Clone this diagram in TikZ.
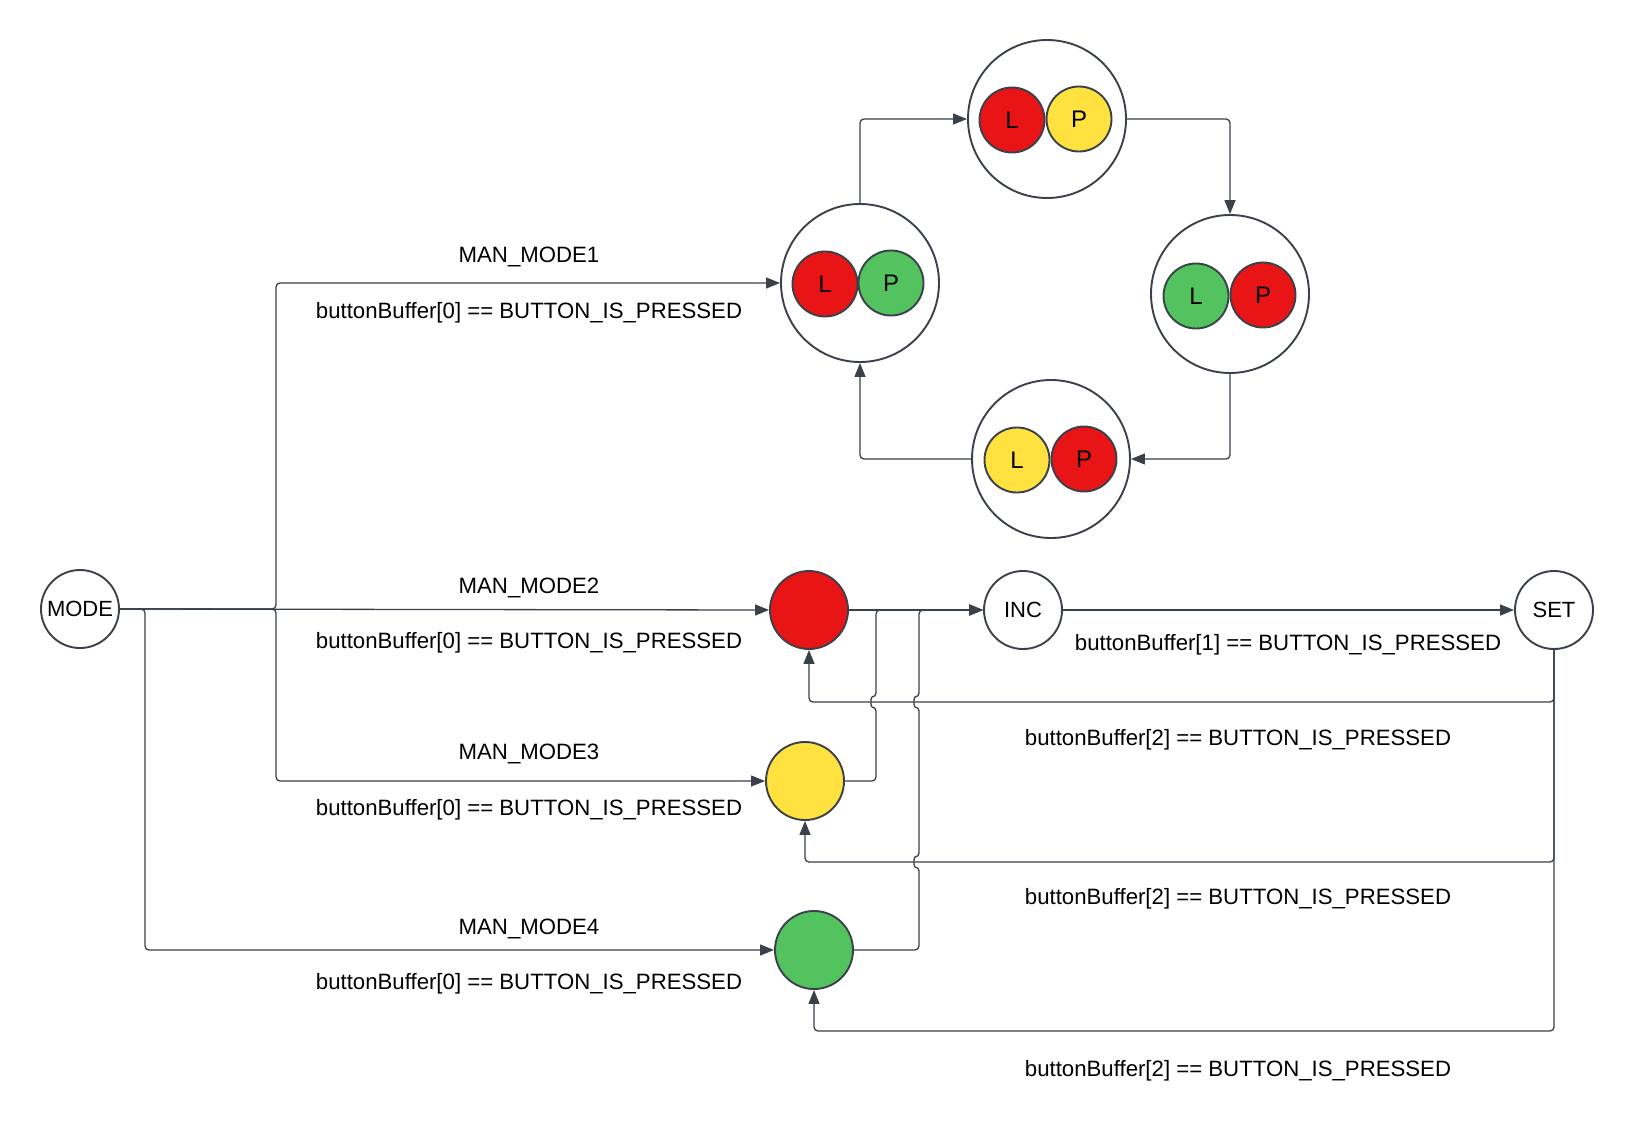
\documentclass[tikz,border=0pt]{standalone}
\usepackage{fontspec}
\setmainfont{Liberation Sans}
\usetikzlibrary{arrows.meta}
\definecolor{edge}{HTML}{3A414A}
\definecolor{lred}{HTML}{E81416}
\definecolor{lyellow}{HTML}{FFE23F}
\definecolor{lgreen}{HTML}{52C35E}
\begin{document}
\begin{tikzpicture}[x=1pt,y=-1pt,
  state/.style={circle, draw=edge, line width=1.9pt, minimum size=78pt, inner sep=0pt,
                fill=white, font=\fontsize{22}{26}\selectfont},
  lamp/.style={circle, draw=edge, line width=1.9pt, minimum size=78pt, inner sep=0pt},
  group/.style={circle, draw=edge, line width=1.9pt, minimum size=158pt,
                inner sep=0pt, fill=white},
  bulb/.style={circle, draw=edge, line width=1.9pt, minimum size=65pt,
               inner sep=0pt, font=\fontsize{24}{28}\selectfont},
  link/.style={draw=edge, line width=1.3pt, rounded corners=4pt},
  arr/.style={-{Triangle[length=14pt,width=11pt]}},
  hop/.style={out=180, in=180, looseness=1.4},
  lbl/.style={inner sep=0pt, font=\fontsize{22.2}{26}\selectfont}]
\useasboundingbox (0,0) rectangle (1633,1146);

% ---- states of the main chart ----
\node[state] (mode) at (80,609) {MODE};
\node[lamp, fill=lred]    (rd) at (809,610) {};
\node[lamp, fill=lyellow] (yl) at (805,781) {};
\node[lamp, fill=lgreen]  (gr) at (814,950) {};
\node[state] (inc) at (1023,610) {INC};
\node[state] (set) at (1554,610) {SET};

% ---- automatic cycle of the two lights ----
\node[group] (lp1) at (860,283) {};
\node[bulb, fill=lred]    (lp1l) at (825,284) {L};
\node[bulb, fill=lgreen]  (lp1p) at (891,283) {P};
\node[group] (lp2) at (1047,119) {};
\node[bulb, fill=lred]    (lp2l) at (1012,120) {L};
\node[bulb, fill=lyellow] (lp2p) at (1079,119) {P};
\node[group] (lp3) at (1230,294) {};
\node[bulb, fill=lgreen]  (lp3l) at (1196,296) {L};
\node[bulb, fill=lred]    (lp3p) at (1263,295) {P};
\node[group] (lp4) at (1051,459) {};
\node[bulb, fill=lyellow] (lp4l) at (1017,460) {L};
\node[bulb, fill=lred]    (lp4p) at (1084,459) {P};

\draw[link,arr] (lp1.north) -- (lp1.north |- lp2.west) -- (lp2.west);
\draw[link,arr] (lp2.east) -- (lp3.north |- lp2.east) -- (lp3.north);
\draw[link,arr] (lp3.south) -- (lp3.south |- lp4.east) -- (lp4.east);
\draw[link,arr] (lp4.west) -- (lp1.south |- lp4.west) -- (lp1.south);

% ---- branches out of MODE ----
\draw[link,arr] (mode.east) -- (276,609) -- (276,283) -- (lp1.west);
\draw[link,arr] (mode.east) -- (rd.west);
\draw[link,arr] (mode.east) -- (276,609) -- (276,781) -- (yl.west);
\draw[link,arr] (mode.east) -- (145,609) -- (145,950) -- (gr.west);

% ---- manual lamps into INC ----
\draw[link,arr] (rd.east) -- (inc.west);
\draw[link,arr] (yl.east) -- (876,781) -- (876,707) to[hop] (876,697)
  -- (876,610) -- (inc.west);
\draw[link,arr] (gr.east) -- (919,950) -- (919,867) to[hop] (919,857)
  -- (919,707) to[hop] (919,697) -- (919,610) -- (inc.west);

% ---- INC to SET and SET back to the lamps ----
\draw[link,arr] (inc.east) -- (set.west);
\draw[link,arr] (set.south) -- (1554,702) -- (809,702) -- (rd.south);
\draw[link,arr] (set.south) -- (1554,862) -- (805,862) -- (yl.south);
\draw[link,arr] (set.south) -- (1554,1031) -- (814,1031) -- (gr.south);

% ---- transition labels ----
\node[lbl] (t1a) at (529,257) {MAN\_MODE1};
\node[lbl] (t1b) at (529,313) {buttonBuffer[0] == BUTTON\_IS\_PRESSED};
\node[lbl] (t2a) at (529,588) {MAN\_MODE2};
\node[lbl] (t2b) at (529,643) {buttonBuffer[0] == BUTTON\_IS\_PRESSED};
\node[lbl] (t3a) at (529,754) {MAN\_MODE3};
\node[lbl] (t3b) at (529,810) {buttonBuffer[0] == BUTTON\_IS\_PRESSED};
\node[lbl] (t4a) at (529,929) {MAN\_MODE4};
\node[lbl] (t4b) at (529,984) {buttonBuffer[0] == BUTTON\_IS\_PRESSED};
\node[lbl] (t5)  at (1288,645) {buttonBuffer[1] == BUTTON\_IS\_PRESSED};
\node[lbl] (t6)  at (1238,740) {buttonBuffer[2] == BUTTON\_IS\_PRESSED};
\node[lbl] (t7)  at (1238,899) {buttonBuffer[2] == BUTTON\_IS\_PRESSED};
\node[lbl] (t8)  at (1238,1071) {buttonBuffer[2] == BUTTON\_IS\_PRESSED};
\end{tikzpicture}
\end{document}
